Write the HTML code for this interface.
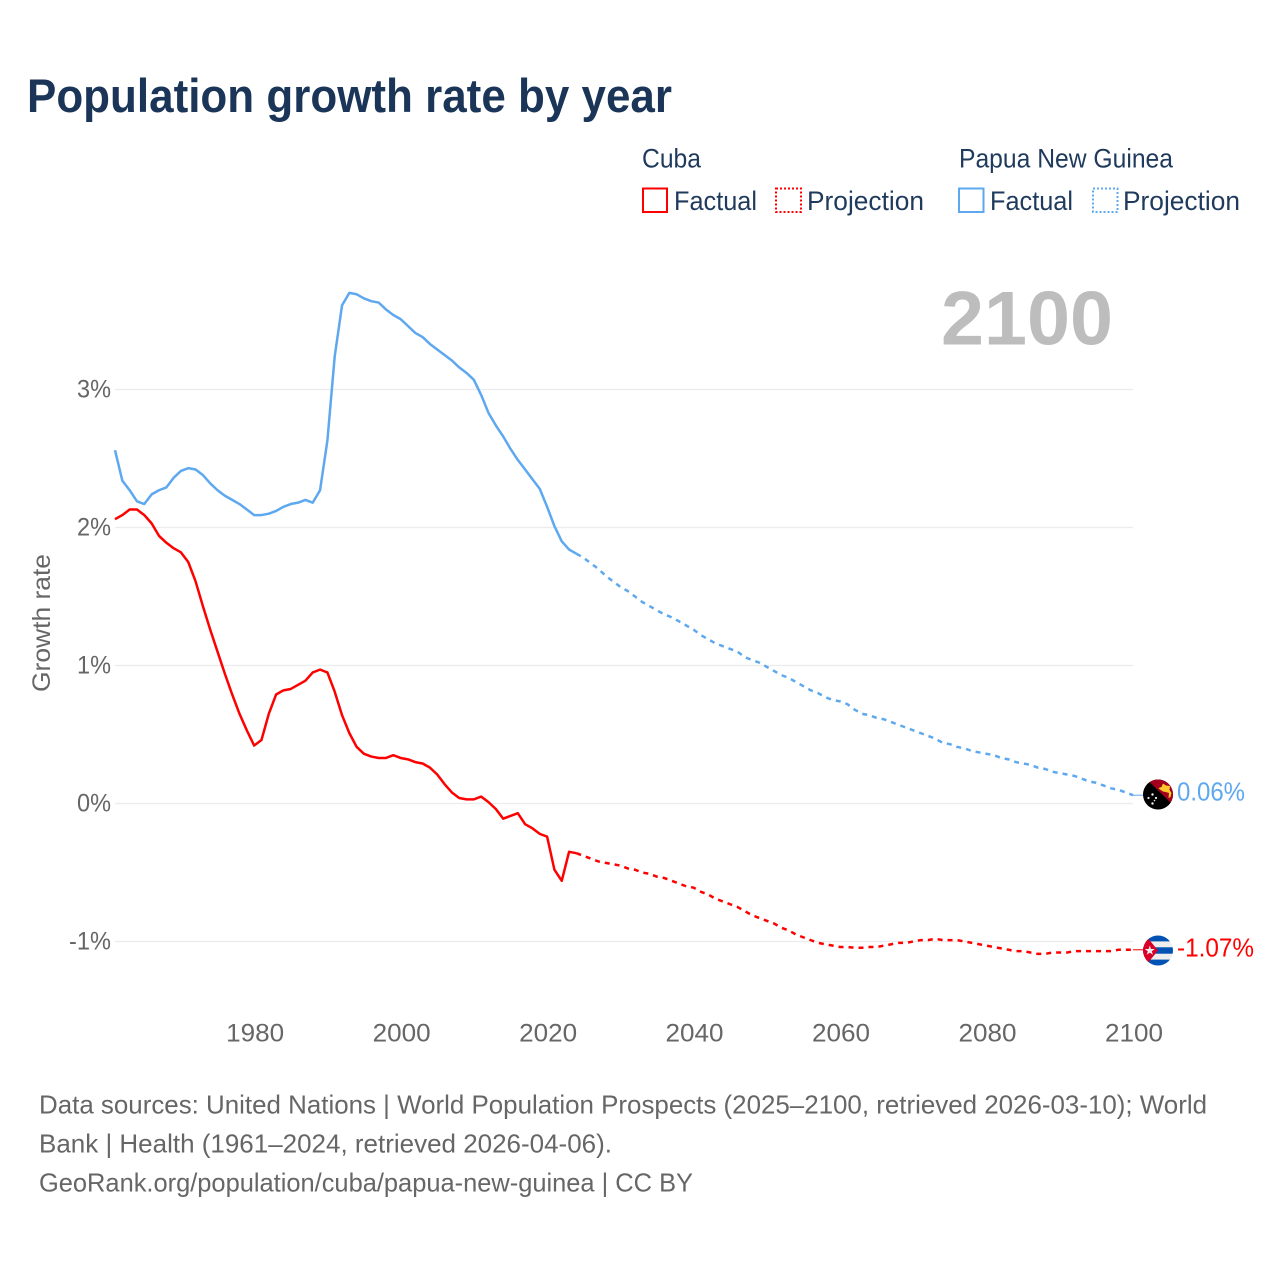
<!DOCTYPE html>
<html lang="en">
<head>
<meta charset="utf-8">
<title>Population growth rate by year</title>
<style>
html,body{margin:0;padding:0;background:#fff;width:1280px;height:1280px;overflow:hidden}
svg{display:block;font-family:"Liberation Sans",sans-serif}
</style>
</head>
<body>
<svg id="chart" xmlns="http://www.w3.org/2000/svg" width="1280" height="1280" viewBox="0 0 1280 1280">
  <defs>
    <clipPath id="clip-png"><circle cx="1158" cy="794.5" r="15"/></clipPath>
    <clipPath id="clip-cuba"><circle cx="1158" cy="950.5" r="15"/></clipPath>
  </defs>
  <rect width="1280" height="1280" fill="#fff"/>
  <text x="27" y="112" font-size="47" font-weight="700" fill="#1a3557" textLength="645" lengthAdjust="spacingAndGlyphs">Population growth rate by year</text>

  <g font-size="26.5" fill="#1f3a5c">
    <text x="642" y="167.5" textLength="59" lengthAdjust="spacingAndGlyphs">Cuba</text>
    <text x="959" y="167.5" textLength="214" lengthAdjust="spacingAndGlyphs">Papua New Guinea</text>
    <rect x="643" y="188.5" width="24" height="23.5" fill="none" stroke="#ff0000" stroke-width="2"/>
    <text x="674" y="210" textLength="83" lengthAdjust="spacingAndGlyphs">Factual</text>
    <rect x="776" y="188.5" width="25" height="23.5" fill="none" stroke="#ff0000" stroke-width="2" stroke-dasharray="2 2"/>
    <text x="807" y="210" textLength="117" lengthAdjust="spacingAndGlyphs">Projection</text>
    <rect x="959" y="188.5" width="24.5" height="23.5" fill="none" stroke="#5ea8ef" stroke-width="2"/>
    <text x="990" y="210" textLength="83" lengthAdjust="spacingAndGlyphs">Factual</text>
    <rect x="1093" y="188.5" width="24.5" height="23.5" fill="none" stroke="#5ea8ef" stroke-width="2" stroke-dasharray="2 2"/>
    <text x="1123" y="210" textLength="117" lengthAdjust="spacingAndGlyphs">Projection</text>
  </g>

  <g id="grid"></g>
  <g id="y-ticks" font-size="25" fill="#666"></g>
  <g id="x-ticks" font-size="25" fill="#666"></g>
  <text transform="translate(50,623) rotate(-90)" text-anchor="middle" font-size="25" fill="#666" textLength="138" lengthAdjust="spacingAndGlyphs">Growth rate</text>

  <text x="941" y="344.5" font-size="76" font-weight="700" fill="#bdbdbd" textLength="172" lengthAdjust="spacingAndGlyphs">2100</text>

  <g id="series"></g>

  <g clip-path="url(#clip-png)">
    <rect x="1143" y="779" width="31" height="31" fill="#000"/>
    <polygon points="1146.5,779 1174,779 1174,806" fill="#a2001d"/>
    <path d="M1158.5,788 l3,-1 l1.5,-3.5 l3,2 l4,0.5 l-0.5,4 l2,3 l-1,4 l-2,1 l0.5,-5 l-3.5,-1 l-2.5,-0.5 l-3,-2 z" fill="#ffc92e"/>
    <g fill="#f0f0f0">
      <circle cx="1152.5" cy="794.5" r="1.2"/>
      <circle cx="1148.5" cy="798" r="1.1"/>
      <circle cx="1156" cy="798" r="1.1"/>
      <circle cx="1152.5" cy="803.5" r="1.2"/>
      <circle cx="1154.5" cy="800.5" r="0.8"/>
    </g>
  </g>
  <g clip-path="url(#clip-cuba)">
    <rect x="1143" y="935" width="31" height="31" fill="#eeeeee"/>
    <rect x="1143" y="935" width="31" height="6.4" fill="#0052b4"/>
    <rect x="1143" y="947.3" width="31" height="6.4" fill="#0052b4"/>
    <rect x="1143" y="959.6" width="31" height="6.4" fill="#0052b4"/>
    <polygon points="1143,935 1147,937 1158,950.5 1147,964 1143,966" fill="#d80027"/>
    <polygon points="1149.8,945.5 1151,949 1154.8,949 1151.8,951.2 1152.9,954.8 1149.8,952.6 1146.7,954.8 1147.8,951.2 1144.8,949 1148.6,949" fill="#f0f0f0"/>
  </g>
  <text x="1177" y="800.5" font-size="25.5" fill="#5ea8ef" textLength="68" lengthAdjust="spacingAndGlyphs">0.06%</text>
  <text x="1177" y="956.5" font-size="25.5" fill="#ff0000" textLength="77" lengthAdjust="spacingAndGlyphs">-1.07%</text>

  <g font-size="26" fill="#666">
    <text x="39" y="1113.5" textLength="1168" lengthAdjust="spacingAndGlyphs">Data sources: United Nations | World Population Prospects (2025–2100, retrieved 2026-03-10); World</text>
    <text x="39" y="1152.5" textLength="573" lengthAdjust="spacingAndGlyphs">Bank | Health (1961–2024, retrieved 2026-04-06).</text>
    <text x="39" y="1191.5" textLength="654" lengthAdjust="spacingAndGlyphs">GeoRank.org/population/cuba/papua-new-guinea | CC BY</text>
  </g>
</svg>
<script>
const startYear = 1961;
const yTickValues = [3, 2, 1, 0, -1];
const yTickLabels = ['3%', '2%', '1%', '0%', '-1%'];
const xTickYears = [1980, 2000, 2020, 2040, 2060, 2080, 2100];
const xTickLabels = ['1980', '2000', '2020', '2040', '2060', '2080', '2100'];

const pngFactual = [2.56,2.34,2.27,2.19,2.17,2.24,2.27,2.29,2.36,2.41,2.43,2.42,2.38,2.32,2.27,2.23,2.20,2.17,2.13,2.09,2.09,2.10,2.12,2.15,2.17,2.18,2.20,2.18,2.27,2.63,3.24,3.61,3.70,3.69,3.66,3.64,3.63,3.58,3.54,3.51,3.46,3.41,3.38,3.33,3.29,3.25,3.21,3.16,3.12,3.07,2.96,2.83,2.74,2.66,2.57,2.49,2.42,2.35,2.28,2.15,2.01,1.90,1.84,1.81];
const pngProjection = [1.78,1.74,1.70,1.65,1.61,1.57,1.54,1.50,1.46,1.43,1.40,1.37,1.35,1.32,1.29,1.26,1.22,1.19,1.16,1.14,1.12,1.10,1.06,1.04,1.02,0.99,0.96,0.93,0.91,0.88,0.85,0.82,0.80,0.77,0.75,0.74,0.72,0.68,0.65,0.64,0.62,0.61,0.59,0.57,0.55,0.53,0.51,0.49,0.47,0.44,0.43,0.41,0.40,0.38,0.37,0.36,0.35,0.33,0.32,0.30,0.29,0.28,0.26,0.25,0.23,0.22,0.21,0.20,0.18,0.16,0.15,0.13,0.11,0.10,0.08,0.06];
const cubaFactual = [2.06,2.09,2.13,2.13,2.09,2.03,1.94,1.89,1.85,1.82,1.75,1.61,1.43,1.26,1.10,0.94,0.79,0.65,0.53,0.42,0.46,0.65,0.79,0.82,0.83,0.86,0.89,0.95,0.97,0.95,0.81,0.64,0.51,0.41,0.36,0.34,0.33,0.33,0.35,0.33,0.32,0.30,0.29,0.26,0.21,0.14,0.08,0.04,0.03,0.03,0.05,0.01,-0.04,-0.11,-0.09,-0.07,-0.15,-0.18,-0.22,-0.24,-0.48,-0.56,-0.35,-0.36];
const cubaProjection = [-0.38,-0.40,-0.42,-0.43,-0.44,-0.45,-0.47,-0.48,-0.50,-0.51,-0.53,-0.54,-0.56,-0.58,-0.60,-0.61,-0.64,-0.66,-0.69,-0.71,-0.73,-0.75,-0.78,-0.81,-0.83,-0.85,-0.87,-0.90,-0.92,-0.95,-0.97,-0.99,-1.01,-1.02,-1.03,-1.04,-1.04,-1.045,-1.045,-1.04,-1.04,-1.03,-1.02,-1.01,-1.01,-1.00,-0.99,-0.99,-0.98,-0.99,-0.99,-0.99,-1.00,-1.01,-1.02,-1.03,-1.04,-1.05,-1.06,-1.07,-1.07,-1.08,-1.09,-1.09,-1.08,-1.08,-1.08,-1.07,-1.07,-1.07,-1.07,-1.07,-1.07,-1.06,-1.06,-1.06];

const SVG_NS = 'http://www.w3.org/2000/svg';
function xScale(year) { return 115 + (year - 1961) * (1018 / 139); }
function yScale(value) { return 803.5 - value * 138; }

const gridGroup = document.getElementById('grid');
const yTickGroup = document.getElementById('y-ticks');
const xTickGroup = document.getElementById('x-ticks');
const seriesGroup = document.getElementById('series');

yTickValues.forEach(function (value, i) {
  const line = document.createElementNS(SVG_NS, 'line');
  
  
  line.setAttribute('x1', xScale(1961));
  line.setAttribute('x2', xScale(2100));
  line.setAttribute('y1', yScale(value));
  line.setAttribute('y2', yScale(value));
  line.setAttribute('stroke', '#ececec');
  line.setAttribute('stroke-width', '1.3');
  gridGroup.appendChild(line);

  const label = document.createElementNS(SVG_NS, 'text');
  
  
  label.setAttribute('x', 111);
  label.setAttribute('y', yScale(value) + 8);
  label.setAttribute('text-anchor', 'end');
  label.setAttribute('textLength', yTickLabels[i].length === 3 ? 42 : 34);
  label.setAttribute('lengthAdjust', 'spacingAndGlyphs');
  label.textContent = yTickLabels[i];
  yTickGroup.appendChild(label);
});

xTickYears.forEach(function (year, i) {
  const label = document.createElementNS(SVG_NS, 'text');
  
  
  label.setAttribute('x', xScale(year) + 1);
  label.setAttribute('y', 1041.5);
  label.setAttribute('text-anchor', 'middle');
  label.setAttribute('textLength', 58);
  label.setAttribute('lengthAdjust', 'spacingAndGlyphs');
  label.textContent = xTickLabels[i];
  xTickGroup.appendChild(label);
});

function pathFrom(values, firstYear, extra) {
  const parts = extra ? [extra] : [];
  values.forEach(function (value, i) {
    parts.push(xScale(firstYear + i).toFixed(2) + ' ' + yScale(value).toFixed(2));
  });
  return 'M' + parts.join(' L');
}

function lastPoint(values, firstYear) {
  const i = values.length - 1;
  return xScale(firstYear + i).toFixed(2) + ' ' + yScale(values[i]).toFixed(2);
}

const factualYears = pngFactual.length;
const projectionStart = startYear + factualYears;

const pngFactualPath = document.createElementNS(SVG_NS, 'path');


pngFactualPath.setAttribute('d', pathFrom(pngFactual, startYear));
pngFactualPath.setAttribute('fill', 'none');
pngFactualPath.setAttribute('stroke', '#5ea8ef');
pngFactualPath.setAttribute('stroke-width', '2.5');
pngFactualPath.setAttribute('stroke-linejoin', 'round');
seriesGroup.appendChild(pngFactualPath);

const pngProjectionPath = document.createElementNS(SVG_NS, 'path');


pngProjectionPath.setAttribute('d', pathFrom(pngProjection, projectionStart, lastPoint(pngFactual, startYear)));
pngProjectionPath.setAttribute('fill', 'none');
pngProjectionPath.setAttribute('stroke', '#5ea8ef');
pngProjectionPath.setAttribute('stroke-width', '2.5');
pngProjectionPath.setAttribute('stroke-dasharray', '5 5');
seriesGroup.appendChild(pngProjectionPath);

const cubaFactualPath = document.createElementNS(SVG_NS, 'path');


cubaFactualPath.setAttribute('d', pathFrom(cubaFactual, startYear));
cubaFactualPath.setAttribute('fill', 'none');
cubaFactualPath.setAttribute('stroke', '#ff0000');
cubaFactualPath.setAttribute('stroke-width', '2.5');
cubaFactualPath.setAttribute('stroke-linejoin', 'round');
seriesGroup.appendChild(cubaFactualPath);

const cubaProjectionPath = document.createElementNS(SVG_NS, 'path');


cubaProjectionPath.setAttribute('d', pathFrom(cubaProjection, projectionStart, lastPoint(cubaFactual, startYear)));
cubaProjectionPath.setAttribute('fill', 'none');
cubaProjectionPath.setAttribute('stroke', '#ff0000');
cubaProjectionPath.setAttribute('stroke-width', '2.5');
cubaProjectionPath.setAttribute('stroke-dasharray', '5 5');
seriesGroup.appendChild(cubaProjectionPath);

const pngLeader = document.createElementNS(SVG_NS, 'line');


pngLeader.setAttribute('x1', xScale(2100));
pngLeader.setAttribute('x2', xScale(2100) + 10);
pngLeader.setAttribute('y1', yScale(pngProjection[pngProjection.length - 1]));
pngLeader.setAttribute('y2', yScale(pngProjection[pngProjection.length - 1]));
pngLeader.setAttribute('stroke', '#5ea8ef');
pngLeader.setAttribute('stroke-width', '1');
seriesGroup.appendChild(pngLeader);

const cubaLeader = document.createElementNS(SVG_NS, 'line');


cubaLeader.setAttribute('x1', xScale(2100));
cubaLeader.setAttribute('x2', xScale(2100) + 10);
cubaLeader.setAttribute('y1', yScale(cubaProjection[cubaProjection.length - 1]));
cubaLeader.setAttribute('y2', yScale(cubaProjection[cubaProjection.length - 1]));
cubaLeader.setAttribute('stroke', '#ff0000');
cubaLeader.setAttribute('stroke-width', '1');
seriesGroup.appendChild(cubaLeader);
</script>
</body>
</html>
